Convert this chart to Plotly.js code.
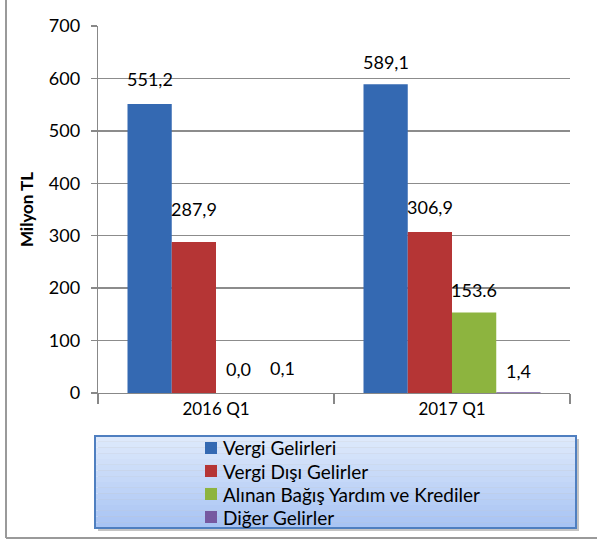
<!DOCTYPE html>
<html>
<head>
<meta charset="utf-8">
<script src="https://cdn.plot.ly/plotly-3.0.1.min.js"></script>
<style>html,body{margin:0;padding:0;background:#fff;}#chart{width:597px;height:539px;}</style>
</head>
<body>
<div id="chart"></div>
<script>
const categories = ['2016 Q1', '2017 Q1'];
const seriesNames = ['Vergi Gelirleri', 'Vergi Dışı Gelirler', 'Alınan Bağış Yardım ve Krediler', 'Diğer Gelirler'];
const vergiGelirleri = [551.2, 589.1];
const vergiDisiGelirler = [287.9, 306.9];
const alinanBagis = [0.0, 153.6];
const digerGelirler = [0.1, 1.4];
const labels2016 = ['551,2', '287,9', '0,0', '0,1'];
const labels2017 = ['589,1', '306,9', '153.6', '1,4'];
const yTicks = [0, 100, 200, 300, 400, 500, 600, 700];

(function () {
const colors = ['#3469B2', '#B53535', '#8DB43F', '#7659A0'];
const labelLift = [[25, 33, 24, 25], [22, 25, 22, 21]];
const FONT = 'Lato, "Open Sans", sans-serif';

const series = [vergiGelirleri, vergiDisiGelirler, alinanBagis, digerGelirler];
const traces = series.map((vals, i) => ({
  type: 'bar',
  name: seriesNames[i],
  x: categories,
  y: vals,
  marker: {color: colors[i], line: {width: 0}},
  hoverinfo: 'skip',
  showlegend: false
}));

const nS = series.length;
const bargap = 0.25;
const bw = (1 - bargap) / nS;
const annotations = [];
[labels2016, labels2017].forEach((labs, c) => {
  labs.forEach((t, i) => {
    annotations.push({
      x: c + (i - (nS - 1) / 2) * bw,
      y: series[i][c],
      xref: 'x', yref: 'y',
      text: t,
      showarrow: false,
      yanchor: 'middle',
      yshift: labelLift[c][i],
      font: {family: FONT, size: 18, color: '#000'}
    });
  });
});

const L = 98, R = 27, T = 26, B = 146, W = 597, H = 539;
const pw = W - L - R, ph = H - T - B;
const px = p => (p - L) / pw;
const py = p => (H - B - p) / ph;

const shapes = [];
shapes.push({type: 'rect', xref: 'paper', yref: 'paper', x0: px(98), x1: px(579), y0: py(439), y1: py(531), fillcolor: '#C4C4C4', line: {width: 0}, layer: 'below'});
const nStrips = 16, boxTop = 436, boxBot = 528;
const c0 = [222, 233, 251], c1 = [168, 196, 244];
for (let k = 0; k < nStrips; k++) {
  const f = k / (nStrips - 1);
  const col = 'rgb(' + c0.map((v, j) => Math.round(v + (c1[j] - v) * f)).join(',') + ')';
  shapes.push({type: 'rect', xref: 'paper', yref: 'paper', x0: px(95), x1: px(576),
    y0: py(boxTop + (boxBot - boxTop) * k / nStrips), y1: py(boxTop + (boxBot - boxTop) * (k + 1) / nStrips),
    fillcolor: col, line: {width: 0}, layer: 'below'});
}
shapes.push({type: 'rect', xref: 'paper', yref: 'paper', x0: px(95), x1: px(576), y0: py(boxTop), y1: py(boxBot), fillcolor: 'rgba(0,0,0,0)', line: {color: '#4F7FC0', width: 2}, layer: 'below'});
shapes.push({type: 'line', xref: 'paper', yref: 'paper', x0: px(6), x1: px(6), y0: py(0), y1: py(538), line: {color: '#9A9A9A', width: 2}});
shapes.push({type: 'line', xref: 'paper', yref: 'paper', x0: px(6), x1: px(597), y0: py(538), y1: py(538), line: {color: '#9A9A9A', width: 2}});

// manual legend
seriesNames.forEach((nm, i) => {
  const yc = 448 + 23 * i;
  shapes.push({type: 'rect', xref: 'paper', yref: 'paper', x0: px(205), x1: px(217), y0: py(yc - 6), y1: py(yc + 6),
    fillcolor: colors[i], line: {width: 0}});
  annotations.push({xref: 'paper', yref: 'paper', x: px(221), y: py(yc), xanchor: 'left', yanchor: 'middle',
    text: nm, showarrow: false, font: {family: FONT, size: 19, color: '#000'}});
});

const layout = {
  width: W, height: H,
  margin: {l: L, r: R, t: T, b: B, pad: 0, autoexpand: false},
  paper_bgcolor: '#fff', plot_bgcolor: '#fff',
  barmode: 'group', bargap: bargap, bargroupgap: 0,
  showlegend: false,
  xaxis: {
    type: 'category',
    showgrid: false, showline: true, linecolor: '#888', linewidth: 1.3,
    ticks: 'outside', tickson: 'boundaries', ticklen: 10, tickcolor: '#888', tickwidth: 1.3,
    tickfont: {family: FONT, size: 17, color: '#000'},
    fixedrange: true
  },
  yaxis: {
    range: [0, 700], tickvals: yTicks, ticktext: yTicks.map(String),
    showgrid: true, gridcolor: '#8C8C8C', gridwidth: 1.3,
    showline: true, linecolor: '#888', linewidth: 1.3,
    ticks: 'outside', ticklen: 6, tickcolor: '#888', tickwidth: 1.3,
    ticklabelstandoff: 7,
    zeroline: false,
    tickfont: {family: FONT, size: 18, color: '#000'},
    title: {text: '<b>Milyon TL</b>', font: {family: FONT, size: 17, color: '#000'}, standoff: 10},
    fixedrange: true
  },
  annotations: annotations,
  shapes: shapes,
  font: {family: FONT}
};

Plotly.newPlot('chart', traces, layout, {displayModeBar: false, staticPlot: true});
})();
</script>
</body>
</html>
